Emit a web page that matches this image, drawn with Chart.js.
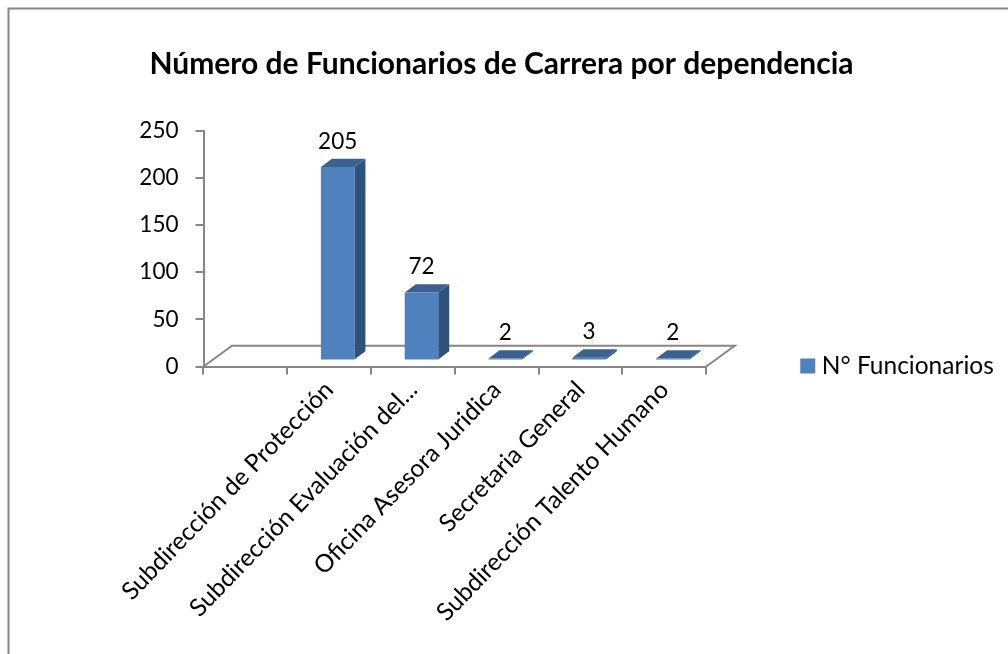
<!DOCTYPE html>
<html><head><meta charset="utf-8">
<style>html,body{margin:0;padding:0;background:#fff}#w{width:1008px;height:654px}</style>
<script src="https://cdn.jsdelivr.net/npm/chart.js@4/dist/chart.umd.min.js"></script>
</head><body><div id="w"><canvas id="c" width="1008" height="654"></canvas></div>
<script>
const chartTitle = 'Número de Funcionarios de Carrera por dependencia';
const categories = ['', 'Subdirección de Protección', 'Subdirección Evaluación del...', 'Oficina Asesora Juridica', 'Secretaria General', 'Subdirección Talento Humano'];
const seriesName = 'N° Funcionarios';
const funcionarios = [null, 205, 72, 2, 3, 2];
const yTicks = [0, 50, 100, 150, 200, 250];

const FONT = 'Lato, Carlito, Calibri, sans-serif';
const GRAY = '#868686';
const FRONT = '#4f81bd', SIDE = '#2f527c', TOP = '#3b618f';
const OFF = {x: 8.5, y: -6, }, DEPTH = {x: 11, y: -8.3}, FLOOR = {x: 28.5, y: -20.7};

const threeD = {
  id: 'threeD',
  beforeDraw(chart) {
    const c = chart.ctx;
    c.save();
    c.strokeStyle = GRAY; c.lineWidth = 2;
    c.strokeRect(8.5, 8.5, 1020, 700);
    c.restore();
  },
  afterLayout(chart) {
    const l = chart.legend;
    const w = l.right - l.left;
    l.left = 798; l.right = 798 + w; l.top = 346; l.bottom = 386;
    chart.titleBlock.left = 0; chart.titleBlock.right = 1003;
  },
  beforeDatasetsDraw(chart) {
    const c = chart.ctx, a = chart.chartArea;
    c.save();
    c.strokeStyle = GRAY; c.lineWidth = 2;
    c.beginPath();
    c.moveTo(a.left, a.bottom);
    c.lineTo(a.left + FLOOR.x, a.bottom + FLOOR.y);
    c.lineTo(a.right + FLOOR.x, a.bottom + FLOOR.y);
    c.lineTo(a.right, a.bottom);
    c.stroke();
    c.restore();
    c.save();
    c.translate(OFF.x, OFF.y);
    chart.getDatasetMeta(0).data.forEach((b, i) => {
      if (funcionarios[i] == null) return;
      const p = b.getProps(['x', 'y', 'base', 'width'], false);
      const L = p.x - p.width / 2, R = p.x + p.width / 2;
      c.fillStyle = SIDE;
      c.beginPath();
      c.moveTo(R, p.y); c.lineTo(R + DEPTH.x, p.y + DEPTH.y);
      c.lineTo(R + DEPTH.x, p.base + DEPTH.y); c.lineTo(R, p.base);
      c.closePath(); c.fill();
      c.fillStyle = TOP;
      c.beginPath();
      c.moveTo(L, p.y); c.lineTo(L + DEPTH.x, p.y + DEPTH.y);
      c.lineTo(R + DEPTH.x, p.y + DEPTH.y); c.lineTo(R, p.y);
      c.closePath(); c.fill();
    });
  },
  afterDatasetsDraw(chart) {
    const c = chart.ctx;
    c.restore();
    c.save();
    c.fillStyle = '#000';
    c.font = '22.5px ' + FONT;
    c.textAlign = 'center'; c.textBaseline = 'middle';
    chart.getDatasetMeta(0).data.forEach((b, i) => {
      if (funcionarios[i] == null) return;
      c.fillText(String(funcionarios[i]), b.x + OFF.x, b.y + OFF.y - 25.5);
    });
    c.restore();
  }
};

new Chart(document.getElementById('c'), {
  type: 'bar',
  data: { labels: categories, datasets: [{
    label: seriesName, data: funcionarios,
    backgroundColor: FRONT, borderWidth: 0,
    barPercentage: 0.4, categoryPercentage: 1
  }]},
  plugins: [threeD],
  options: {
    responsive: false, animation: false,
    layout: { padding: { left: 0, right: 96, top: 0, bottom: 0 } },
    plugins: {
      title: { display: true, text: chartTitle, color: '#000',
        font: { family: FONT, size: 30, weight: 'bold' },
        padding: { top: 46, bottom: 48.5 } },
      legend: { position: 'right', labels: {
        color: '#000', font: { family: FONT, size: 24.5 },
        usePointStyle: true, pointStyle: 'rect',
        boxWidth: 3.5, boxHeight: 15, padding: 8 } },
      tooltip: { enabled: false }
    },
    scales: {
      x: { border: { color: GRAY, width: 2 },
        ticks: { color: '#000', font: { family: FONT, size: 24.5 }, minRotation: 46, maxRotation: 46, autoSkip: false, padding: 1 },
        grid: { display: true, drawOnChartArea: false, color: GRAY, lineWidth: 2, tickLength: 8, offset: true },
        afterFit(s) { s.height = 287.5; } },
      y: { min: 0, max: 250, afterBuildTicks(s) { s.ticks = yTicks.map(v => ({ value: v })); },
        border: { color: GRAY, width: 2 },
        grid: { display: true, drawOnChartArea: false, color: GRAY, lineWidth: 2, tickLength: 8 },
        ticks: { color: '#000', font: { family: FONT, size: 22.5 }, padding: 17 },
        afterFit(s) { s.width = 203.5; } }
    }
  }
});
</script></body></html>
